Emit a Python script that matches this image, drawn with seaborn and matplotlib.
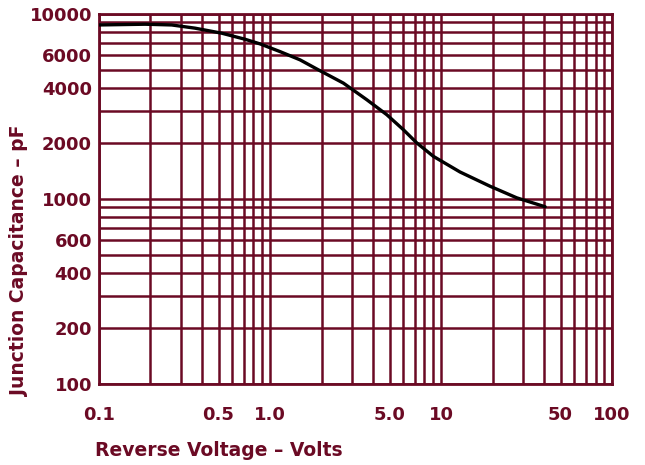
import numpy as np
import pandas as pd
import matplotlib
matplotlib.use("Agg")
import matplotlib.pyplot as plt
import seaborn as sns
from matplotlib.ticker import FixedLocator, FixedFormatter, LogLocator, NullFormatter

# curve (volts, pF)
voltage = [0.1, 0.186, 0.266, 0.364, 0.522, 0.714, 0.874, 1.144, 1.497, 1.916,
           2.684, 3.678, 4.814, 6.017, 7.21, 9.02, 12.9, 19.35, 27.7, 40.6]
capacitance = [8720, 8800, 8720, 8380, 7870, 7300, 6890, 6260, 5650, 4990,
               4230, 3440, 2855, 2370, 2010, 1700, 1400, 1172, 1015, 908]

x_ticks = [0.1, 0.5, 1.0, 5.0, 10, 50, 100]
x_labels = ["0.1", "0.5", "1.0", "5.0", "10", "50", "100"]
y_ticks = [100, 200, 400, 600, 1000, 2000, 4000, 6000, 10000]
y_labels = ["100", "200", "400", "600", "1000", "2000", "4000", "6000", "10000"]

maroon = "#6b0a24"

sns.set_style("white")
plt.rcParams["font.family"] = ["DejaVu Sans"]

df = pd.DataFrame({"V": voltage, "C": capacitance})

fig = plt.figure(figsize=(6.45, 4.65), dpi=100)
ax = fig.add_axes([0.1535, 0.174, 0.7955, 0.796])

ax.set_xscale("log")
ax.set_yscale("log")
ax.set_xlim(0.1, 100)
ax.set_ylim(100, 10000)

sns.lineplot(data=df, x="V", y="C", ax=ax, color="black", linewidth=2.4, zorder=5)

ax.xaxis.set_major_locator(FixedLocator(x_ticks))
ax.xaxis.set_major_formatter(FixedFormatter(x_labels))
ax.yaxis.set_major_locator(FixedLocator(y_ticks))
ax.yaxis.set_major_formatter(FixedFormatter(y_labels))
ax.xaxis.set_minor_locator(LogLocator(base=10, subs=np.arange(1, 10)))
ax.yaxis.set_minor_locator(LogLocator(base=10, subs=np.arange(1, 10)))
ax.xaxis.set_minor_formatter(NullFormatter())
ax.yaxis.set_minor_formatter(NullFormatter())

ax.grid(True, which="both", color=maroon, linewidth=1.8)
ax.tick_params(which="both", length=0, colors=maroon, labelsize=13)
ax.tick_params(axis="x", pad=16)
ax.tick_params(axis="y", pad=5)
for lab in ax.get_xticklabels() + ax.get_yticklabels():
    lab.set_fontweight("bold")
    lab.set_color(maroon)
for sp in ax.spines.values():
    sp.set_color(maroon)
    sp.set_linewidth(2.0)

ax.set_xlabel("")
ax.set_ylabel("")
fig.text(95 / 645, 1 - 450 / 465, "Reverse Voltage \u2013 Volts", color=maroon,
         fontsize=13.5, fontweight="bold", ha="left", va="center")
fig.text(20 / 645, 1 - 261 / 465, "Junction Capacitance \u2013 pF", color=maroon,
         fontsize=13.5, fontweight="bold", rotation=90, ha="center", va="center")

fig.savefig("out.png", dpi=100)
plt.close(fig)
